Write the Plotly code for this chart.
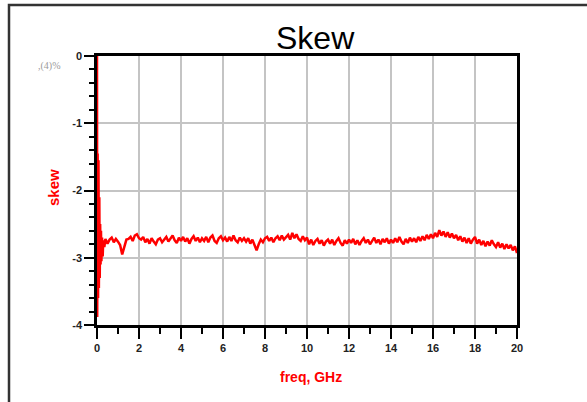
import plotly.graph_objects as go

# ---- data ----
freq_start = [0, 0.01, 0.03, 0.05, 0.07, 0.09, 0.11, 0.13, 0.15, 0.17, 0.19,
              0.21, 0.24, 0.27, 0.30, 0.35]
skew_start = [0, -3.88, -1.45, -3.60, -1.55, -3.45, -2.10, -3.30, -2.50, -3.10,
              -2.60, -3.05, -2.70, -2.98, -2.74, -2.84]

freq_main = [round(0.4 + 0.1 * i, 1) for i in range(197)]
skew_main = [
    -2.72, -2.79, -2.73, -2.70, -2.77, -2.72, -2.76,
    -2.81, -2.95, -2.83, -2.73, -2.72, -2.69, -2.75, -2.67, -2.65, -2.71,
    -2.73, -2.69, -2.77, -2.72, -2.79, -2.71, -2.76, -2.80, -2.73, -2.71,
    -2.77, -2.72, -2.69, -2.76, -2.71, -2.67, -2.74, -2.78, -2.70, -2.75,
    -2.69, -2.76, -2.71, -2.79, -2.72, -2.68, -2.75, -2.70, -2.77, -2.71,
    -2.75, -2.69, -2.77, -2.70, -2.67, -2.75, -2.78, -2.71, -2.68, -2.74,
    -2.70, -2.76, -2.69, -2.75, -2.67, -2.74, -2.77, -2.70, -2.75, -2.71,
    -2.76, -2.71, -2.79, -2.73, -2.81, -2.89, -2.80, -2.73, -2.77, -2.71,
    -2.69, -2.75, -2.70, -2.77, -2.71, -2.68, -2.74, -2.67, -2.73, -2.69,
    -2.66, -2.73, -2.63, -2.71, -2.65, -2.72, -2.75, -2.68, -2.74, -2.70,
    -2.80, -2.73, -2.81, -2.75, -2.72, -2.79, -2.74, -2.82, -2.76, -2.73,
    -2.79, -2.73, -2.81, -2.75, -2.71, -2.78, -2.82, -2.74, -2.79, -2.73,
    -2.78, -2.72, -2.80, -2.74, -2.81, -2.75, -2.71, -2.78, -2.73, -2.80,
    -2.74, -2.70, -2.78, -2.73, -2.80, -2.72, -2.77, -2.71, -2.79, -2.73,
    -2.78, -2.71, -2.77, -2.69, -2.76, -2.80, -2.72, -2.78, -2.70, -2.76,
    -2.71, -2.77, -2.69, -2.75, -2.68, -2.74, -2.66, -2.72, -2.65, -2.71,
    -2.63, -2.69, -2.59, -2.67, -2.61, -2.69, -2.62, -2.70, -2.64, -2.71,
    -2.66, -2.74, -2.68, -2.76, -2.70, -2.78, -2.71, -2.79, -2.73, -2.69,
    -2.79, -2.73, -2.81, -2.75, -2.83, -2.76, -2.82, -2.74, -2.80, -2.84,
    -2.77, -2.85, -2.79, -2.87, -2.80, -2.86, -2.81, -2.89, -2.83, -2.93,
]

freq = freq_start + freq_main
skew = skew_start + skew_main

x_ticks = [0, 2, 4, 6, 8, 10, 12, 14, 16, 18, 20]
y_ticks = [0, -1, -2, -3, -4]

fig = go.Figure()
fig.add_trace(go.Scatter(x=freq, y=skew, mode="lines",
                         line=dict(color="#ff0000", width=2.5), showlegend=False))

tickfont = dict(family="Liberation Sans, Arial", size=11, color="#222222", weight="bold")

L, T = 97, 56
PW, PH = 420, 269

fig.update_layout(
    width=587, height=402,
    margin=dict(l=L, r=587 - L - PW, t=T, b=402 - T - PH),
    paper_bgcolor="white", plot_bgcolor="white",
    xaxis=dict(
        range=[0, 20], tickvals=x_ticks, ticktext=[str(v) for v in x_ticks],
        showgrid=True, gridcolor="#c4c4c4", gridwidth=2,
        zeroline=False, showline=True, linecolor="black", linewidth=2.5, mirror=True,
        ticks="outside", ticklen=11, tickwidth=2, tickcolor="black",
        minor=dict(dtick=1, ticks="outside", ticklen=6, tickwidth=2, tickcolor="black", showgrid=False),
        tickfont=tickfont, layer="below traces",
    ),
    yaxis=dict(
        range=[-4, 0], tickvals=y_ticks, ticktext=[str(v) for v in y_ticks],
        showgrid=True, gridcolor="#c4c4c4", gridwidth=2,
        zeroline=False, showline=True, linecolor="black", linewidth=2.5, mirror=True,
        ticks="outside", ticklen=10, tickwidth=2, tickcolor="black",
        minor=dict(dtick=0.2, ticks="outside", ticklen=5, tickwidth=2, tickcolor="black", showgrid=False),
        tickfont=tickfont, layer="below traces",
    ),
    shapes=[dict(type="rect", xref="paper", yref="paper",
                 x0=(9 - L) / PW, x1=(620 - L) / PW,
                 y0=(T + PH - 430) / PH, y1=(T + PH - 5) / PH,
                 line=dict(color="#333333", width=2.5), fillcolor="rgba(0,0,0,0)")],
    annotations=[
        dict(text="Skew", xref="paper", yref="paper", x=(315 - L) / PW, y=(T + PH - 38) / PH,
             xanchor="center", yanchor="middle", showarrow=False,
             font=dict(family="Liberation Sans, Arial", size=32, color="black")),
        dict(text="freq, GHz", xref="paper", yref="paper", x=(311 - L) / PW, y=(T + PH - 377) / PH,
             xanchor="center", yanchor="middle", showarrow=False,
             font=dict(family="Liberation Sans, Arial", size=14, color="#ff0000", weight="bold")),
        dict(text="skew", xref="paper", yref="paper", x=(53 - L) / PW, y=(T + PH - 188) / PH,
             xanchor="center", yanchor="middle", showarrow=False, textangle=-90,
             font=dict(family="Liberation Sans, Arial", size=15, color="#ff0000", weight="bold")),
        dict(text=",(4)%", xref="paper", yref="paper", x=(49 - L) / PW, y=(T + PH - 66) / PH,
             xanchor="center", yanchor="middle", showarrow=False,
             font=dict(family="Liberation Serif, Times New Roman", size=10, color="#9a9a9a")),
    ],
)

fig.write_html("out.html", config={"displayModeBar": False},
               post_script="document.body.style.margin='0';")
